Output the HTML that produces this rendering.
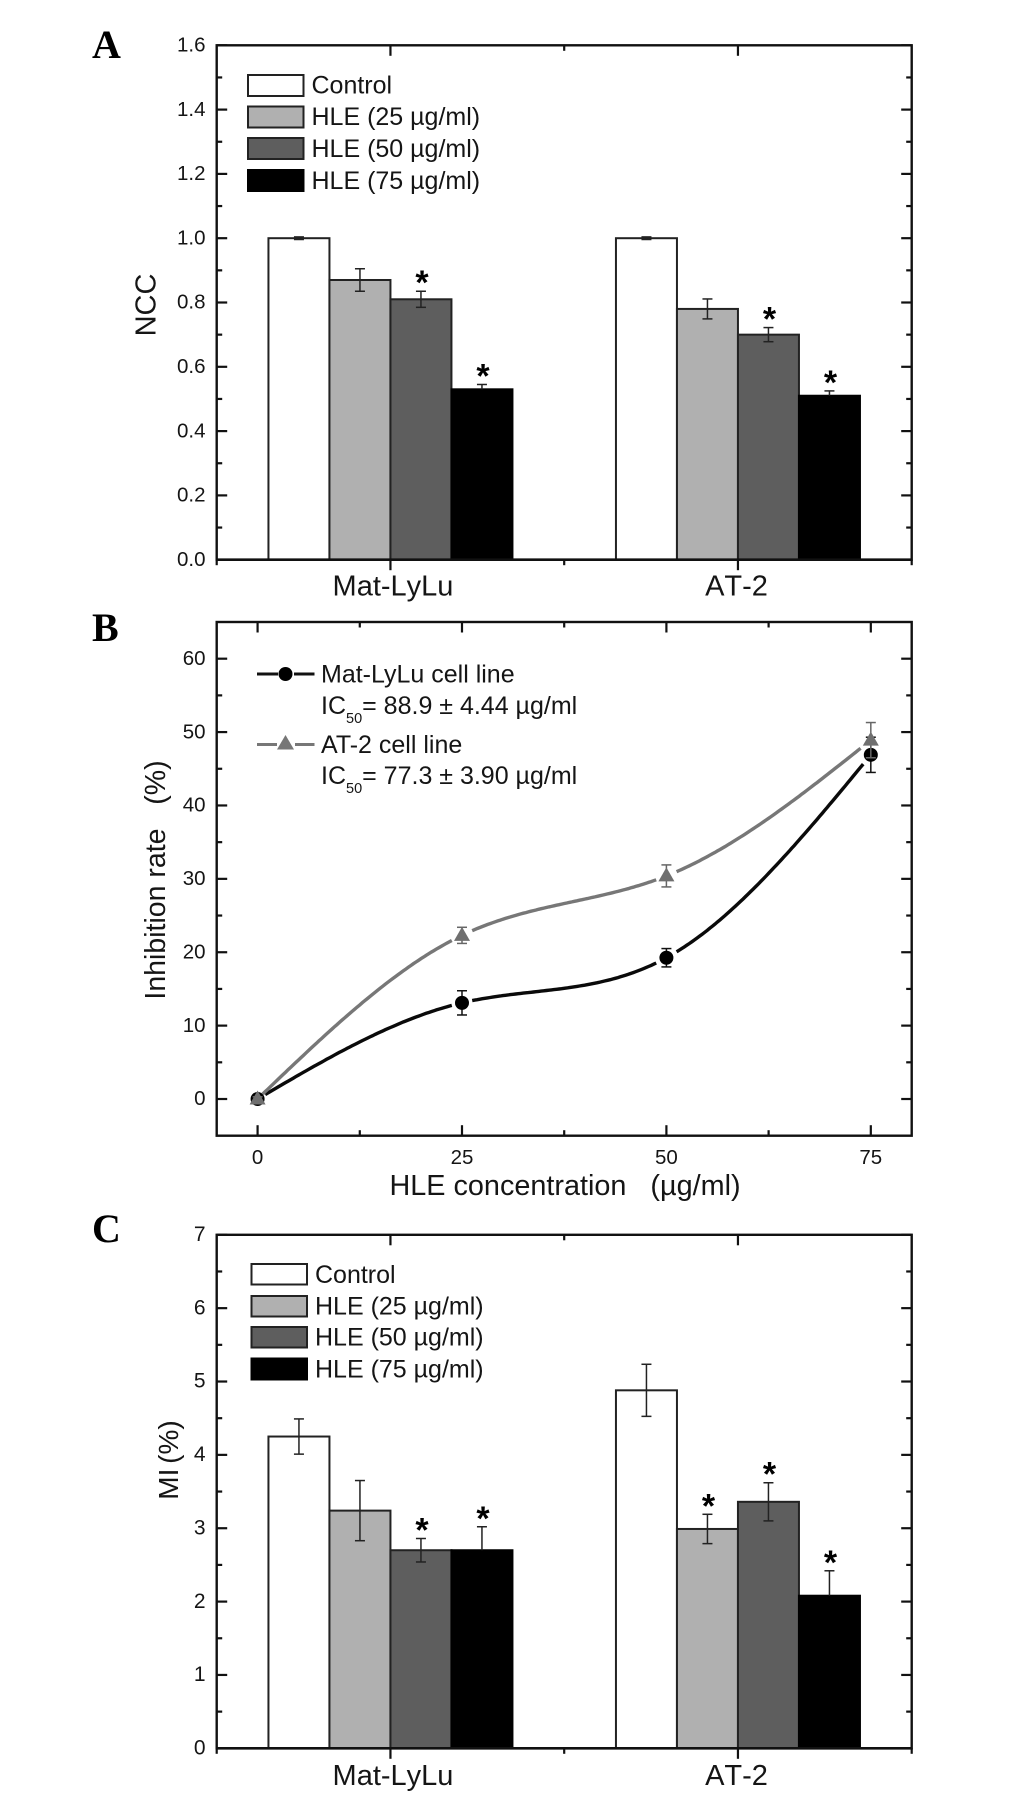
<!DOCTYPE html>
<html lang="en">
<head>
<meta charset="utf-8">
<title>HLE effects on NCC, inhibition rate and MI</title>
<style>
html,body{margin:0;padding:0;background:#fff;}
svg{display:block;}
text{font-family:"Liberation Sans",sans-serif;fill:#151515;white-space:pre;}
.letter{font-family:"Liberation Serif",serif;font-weight:bold;font-size:40px;fill:#000;}
.leg{font-size:25px;}
.title{font-size:29px;font-kerning:none;}
</style>
</head>
<body>
<svg id="figure" xmlns="http://www.w3.org/2000/svg" width="1033" height="1800" viewBox="0 0 1033 1800">
  <rect x="0" y="0" width="1033" height="1800" fill="#fff"/>

  <text class="letter" x="92" y="58">A</text>
  <text class="letter" x="92" y="641">B</text>
  <text class="letter" x="92" y="1242">C</text>

  <g id="panelA"></g>
  <g id="panelB"></g>
  <g id="panelC"></g>

  <text class="title" transform="translate(155.5 305) rotate(-90)" text-anchor="middle">NCC</text>
  <text class="title" x="393" y="595.5" text-anchor="middle">Mat-LyLu</text>
  <text class="title" x="736.5" y="595.5" text-anchor="middle">AT-2</text>

  <g>
    <rect x="248" y="75" width="55.5" height="21" fill="#fff" stroke="#222" stroke-width="2"/>
    <rect x="248" y="106.5" width="55.5" height="21" fill="#b0b0b0" stroke="#222" stroke-width="2"/>
    <rect x="248" y="138" width="55.5" height="21" fill="#5e5e5e" stroke="#222" stroke-width="2"/>
    <rect x="248" y="170" width="55.5" height="21" fill="#000" stroke="#000" stroke-width="2"/>
    <text class="leg" x="311.5" y="93.5">Control</text>
    <text class="leg" x="311.5" y="125">HLE (25 µg/ml)</text>
    <text class="leg" x="311.5" y="157">HLE (50 µg/ml)</text>
    <text class="leg" x="311.5" y="189">HLE (75 µg/ml)</text>
  </g>

  <text class="title" style="font-size:28.5px" transform="translate(165 880) rotate(-90)" text-anchor="middle">Inhibition rate   (%)</text>
  <text class="title" style="font-size:28.8px" x="389.5" y="1195">HLE concentration   (µg/ml)</text>

  <g>
    <line x1="257" y1="674" x2="278" y2="674" stroke="#111" stroke-width="3"/>
    <line x1="294" y1="674" x2="314.5" y2="674" stroke="#111" stroke-width="3"/>
    <circle cx="285.5" cy="674" r="7" fill="#000"/>
    <line x1="257" y1="744.5" x2="277" y2="744.5" stroke="#777" stroke-width="3"/>
    <line x1="295" y1="744.5" x2="314.5" y2="744.5" stroke="#777" stroke-width="3"/>
    <polygon points="285.5,735 277,749.5 294,749.5" fill="#777"/>
    <text class="leg" x="321" y="682.5">Mat-LyLu cell line</text>
    <text class="leg" x="321" y="714">IC<tspan font-size="14.5" dy="9">50</tspan><tspan dy="-9">= 88.9 ± 4.44 µg/ml</tspan></text>
    <text class="leg" x="321" y="753">AT-2 cell line</text>
    <text class="leg" x="321" y="784">IC<tspan font-size="14.5" dy="9">50</tspan><tspan dy="-9">= 77.3 ± 3.90 µg/ml</tspan></text>
  </g>

  <text class="title" style="font-size:28px;word-spacing:-3px" transform="translate(178 1460) rotate(-90)" text-anchor="middle">MI (%)</text>
  <text class="title" x="393" y="1785" text-anchor="middle">Mat-LyLu</text>
  <text class="title" x="736.5" y="1785" text-anchor="middle">AT-2</text>

  <g>
    <rect x="251.5" y="1264" width="55.5" height="20.5" fill="#fff" stroke="#222" stroke-width="2"/>
    <rect x="251.5" y="1296" width="55.5" height="20.5" fill="#b0b0b0" stroke="#222" stroke-width="2"/>
    <rect x="251.5" y="1327" width="55.5" height="20.5" fill="#5e5e5e" stroke="#222" stroke-width="2"/>
    <rect x="251.5" y="1358.5" width="55.5" height="21" fill="#000" stroke="#000" stroke-width="2"/>
    <text class="leg" x="315" y="1283">Control</text>
    <text class="leg" x="315" y="1314.5">HLE (25 µg/ml)</text>
    <text class="leg" x="315" y="1345.7">HLE (50 µg/ml)</text>
    <text class="leg" x="315" y="1377.3">HLE (75 µg/ml)</text>
  </g>
</svg>

<script>
// ---- Chart data ----
var barColors = ['#ffffff', '#b0b0b0', '#5e5e5e', '#000000'];
var seriesKeys = ['control', 'hle-25', 'hle-50', 'hle-75'];
var groupKeys = ['mat-lylu', 'at-2'];

// Panel A: NCC, rows are cell lines, columns are treatments
var nccMatLyLu = [1.00, 0.87, 0.81, 0.53];
var nccAT2 = [1.00, 0.78, 0.70, 0.51];
var nccErrMatLyLu = [0.004, 0.035, 0.025, 0.015];
var nccErrAT2 = [0.004, 0.031, 0.022, 0.015];
var nccStarsMatLyLu = [0, 0, 1, 1];
var nccStarsAT2 = [0, 0, 1, 1];
var nccTickLabels = ['0.0', '0.2', '0.4', '0.6', '0.8', '1.0', '1.2', '1.4', '1.6'];

// Panel B: inhibition rate
var doses = [0, 25, 50, 75];
var inhibitionMatLyLu = [0, 13.1, 19.25, 46.9];
var inhibitionAT2 = [0, 22.3, 30.4, 48.9];
var inhibitionErrMatLyLu = [0.3, 1.65, 1.25, 2.4];
var inhibitionErrAT2 = [0.3, 1.1, 1.5, 2.4];
var inhibitionYTickLabels = ['0', '10', '20', '30', '40', '50', '60'];
var inhibitionXTickLabels = ['0', '25', '50', '75'];

// Panel C: MI
var miMatLyLu = [4.25, 3.24, 2.70, 2.70];
var miAT2 = [4.88, 2.99, 3.36, 2.08];
var miErrMatLyLu = [0.24, 0.41, 0.16, 0.32];
var miErrAT2 = [0.355, 0.20, 0.26, 0.34];
var miStarsMatLyLu = [0, 0, 1, 1];
var miStarsAT2 = [0, 1, 1, 1];
var miTickLabels = ['0', '1', '2', '3', '4', '5', '6', '7'];

// ---- Helpers ----
var NS = 'http://www.w3.org/2000/svg';
var AXIS = '#111';

function make(parent, tag, name) {
  var el = document.createElementNS(NS, tag);
  
  
  parent.appendChild(el);
  return el;
}
function line(parent, name, x1, y1, x2, y2, width, color) {
  var el = make(parent, 'line', name);
  el.setAttribute('x1', x1);
  el.setAttribute('y1', y1);
  el.setAttribute('x2', x2);
  el.setAttribute('y2', y2);
  el.setAttribute('stroke', width ? color : 'none');
  el.setAttribute('stroke-width', width);
  return el;
}
function label(parent, name, x, y, str, size, anchor) {
  var el = make(parent, 'text', name);
  el.setAttribute('x', x);
  el.setAttribute('y', y);
  el.setAttribute('font-size', size);
  el.setAttribute('text-anchor', anchor);
  el.textContent = str;
  return el;
}
function linear(d0, d1, r0, r1) {
  return function (v) { return r0 + (v - d0) * (r1 - r0) / (d1 - d0); };
}
function frame(parent, box) {
  var el = make(parent, 'rect', 'plot-frame');
  el.setAttribute('x', box.l);
  el.setAttribute('y', box.t);
  el.setAttribute('width', box.r - box.l);
  el.setAttribute('height', box.b - box.t);
  el.setAttribute('fill', 'none');
  el.setAttribute('stroke', AXIS);
  el.setAttribute('stroke-width', 2.4);
}
function yTicks(parent, box, y, labels, step, labelSize, labelX) {
  labels.forEach(function (txt, i) {
    var v = Number(txt);
    var py = y(v);
    line(parent, 'y-tick-major', box.l, py, box.l + 10.5, py, 2.2, AXIS);
    line(parent, 'y-tick-major-right', box.r, py, box.r - 10.5, py, 2.2, AXIS);
    label(parent, 'y-tick-label', labelX, py + 6.2, txt, labelSize, 'end');
    if (i < labels.length - 1) {
      var m = y(v + step / 2);
      line(parent, 'y-tick-minor', box.l, m, box.l + 5.5, m, 2.2, AXIS);
      line(parent, 'y-tick-minor-right', box.r, m, box.r - 5.5, m, 2.2, AXIS);
    }
  });
}
function barPanel(parent, box, y, tickLabels, tickStep, labelSize, values, errs, stars) {
  var groupPos = [1, 2];
  var x = linear(0.5, 2.5, box.l, box.r);
  var barW = 61;
  [0.5, 1.5, 2.5].forEach(function (v) {
    line(parent, 'x-tick-minor', x(v), box.b, x(v), box.b + 5.5, 2.2, AXIS);
    if (v === 1.5) line(parent, 'x-tick-minor-top', x(v), box.t, x(v), box.t + 5.5, 2.2, AXIS);
  });
  groupPos.forEach(function (g) {
    line(parent, 'x-tick-major', x(g), box.b, x(g), box.b + 10.5, 2.2, AXIS);
    line(parent, 'x-tick-major-top', x(g), box.t, x(g), box.t + 10.5, 2.2, AXIS);
  });
  yTicks(parent, box, y, tickLabels, tickStep, labelSize, 205.5);
  values.forEach(function (row, gi) {
    row.forEach(function (v, si) {
      var left = x(groupPos[gi]) + (si - 2) * barW;
      var bar = make(parent, 'rect', 'bar-' + groupKeys[gi] + '-' + seriesKeys[si]);
      bar.setAttribute('x', left);
      bar.setAttribute('y', y(v));
      bar.setAttribute('width', barW);
      bar.setAttribute('height', y(0) - y(v));
      bar.setAttribute('fill', barColors[si]);
      bar.setAttribute('stroke', si === 3 ? '#000' : '#222');
      bar.setAttribute('stroke-width', 2);
    });
  });
  values.forEach(function (row, gi) {
    row.forEach(function (v, si) {
      var cx = x(groupPos[gi]) + (si - 1.5) * barW;
      var e = errs[gi][si];
      var top = y(v + e), bot = y(v - e);
      // the lower half of an error bar disappears inside the black bars
      var isBlack = si === 3;
      line(parent, 'error-bar', cx, top, cx, isBlack ? y(v) : bot, 1.5, '#222');
      line(parent, 'error-cap-top', cx - 5, top, cx + 5, top, 1.5, '#222');
      if (!isBlack) line(parent, 'error-cap-bottom', cx - 5, bot, cx + 5, bot, 1.5, '#222');
      if (stars[gi][si]) {
        var s = label(parent, 'significance-star', cx + 1, top - 15.5 + 18.5, '*', 34, 'middle');
        s.setAttribute('font-weight', 'bold');
        s.style.fill = '#000';
      }
    });
  });
  frame(parent, box);
  line(parent, 'x-axis-line', box.l, box.b, box.r, box.b, 2.6, AXIS);
}
// natural cubic spline through the data points
function spline(xs, ys) {
  var n = xs.length, h = [], a = [], b = [], c = [], d = [], M = [], i;
  for (i = 0; i < n - 1; i++) h.push(xs[i + 1] - xs[i]);
  for (i = 0; i < n; i++) { M.push(0); a.push(0); b.push(1); c.push(0); d.push(0); }
  for (i = 1; i < n - 1; i++) {
    a[i] = h[i - 1];
    b[i] = 2 * (h[i - 1] + h[i]);
    c[i] = h[i];
    d[i] = 6 * ((ys[i + 1] - ys[i]) / h[i] - (ys[i] - ys[i - 1]) / h[i - 1]);
  }
  for (i = 1; i < n; i++) {
    var f = a[i] / b[i - 1];
    b[i] -= f * c[i - 1];
    d[i] -= f * d[i - 1];
  }
  M[n - 1] = d[n - 1] / b[n - 1];
  for (i = n - 2; i >= 0; i--) M[i] = (d[i] - c[i] * M[i + 1]) / b[i];
  return function (seg, t) {
    var A = 1 - t, B = t, H = h[seg];
    return A * ys[seg] + B * ys[seg + 1] +
      ((A * A * A - A) * M[seg] + (B * B * B - B) * M[seg + 1]) * H * H / 6;
  };
}
function curveSeries(parent, key, xs, ys, x, y, color) {
  var S = spline(xs, ys), gap = 10, seg, k;
  for (seg = 0; seg < xs.length - 1; seg++) {
    var pts = [];
    for (k = 0; k <= 80; k++) {
      var t = k / 80;
      var vx = xs[seg] + t * (xs[seg + 1] - xs[seg]);
      var px = x(vx), py = y(S(seg, t));
      var d0 = Math.hypot(px - x(xs[seg]), py - y(ys[seg]));
      var d1 = Math.hypot(px - x(xs[seg + 1]), py - y(ys[seg + 1]));
      if (d0 > (seg === 0 ? 6 : gap) && d1 > gap) pts.push(px.toFixed(1) + ',' + py.toFixed(1));
    }
    var pl = make(parent, 'polyline', 'line-' + key);
    pl.setAttribute('points', pts.join(' '));
    pl.setAttribute('fill', 'none');
    pl.setAttribute('stroke', color);
    pl.setAttribute('stroke-width', 3.4);
  }
}
function errorsSeries(parent, xs, ys, errs, x, y, color) {
  ys.forEach(function (v, i) {
    var px = x(xs[i]), top = y(v + errs[i]), bot = y(v - errs[i]);
    line(parent, 'error-bar', px, top, px, bot, 1.5, color);
    line(parent, 'error-cap-top', px - 5, top, px + 5, top, 1.5, color);
    line(parent, 'error-cap-bottom', px - 5, bot, px + 5, bot, 1.5, color);
  });
}

// ---- Panel A ----
var boxA = { l: 216.7, r: 911.7, t: 45.3, b: 559.7 };
var yA = linear(0, 1.6, boxA.b, boxA.t);
barPanel(document.getElementById('panelA'), boxA, yA, nccTickLabels, 0.2, 20.5,
  [nccMatLyLu, nccAT2], [nccErrMatLyLu, nccErrAT2], [nccStarsMatLyLu, nccStarsAT2]);

// ---- Panel B ----
var gB = document.getElementById('panelB');
var boxB = { l: 216.7, r: 911.7, t: 622, b: 1135.7 };
var xB = linear(-5, 80, boxB.l, boxB.r);
var yB = linear(-5, 65, boxB.b, boxB.t);
yTicks(gB, boxB, yB, inhibitionYTickLabels, 10, 20.5, 205.5);
inhibitionXTickLabels.forEach(function (txt, i) {
  var v = Number(txt), px = xB(v);
  line(gB, 'x-tick-major', px, boxB.b, px, boxB.b - 10.5, 2.2, AXIS);
  line(gB, 'x-tick-major-top', px, boxB.t, px, boxB.t + 10.5, 2.2, AXIS);
  label(gB, 'x-tick-label', px, 1164, txt, 20.5, 'middle');
  if (i < inhibitionXTickLabels.length - 1) {
    var m = xB(v + 12.5);
    line(gB, 'x-tick-minor', m, boxB.b, m, boxB.b - 5.5, 2.2, AXIS);
    line(gB, 'x-tick-minor-top', m, boxB.t, m, boxB.t + 5.5, 2.2, AXIS);
  }
});
frame(gB, boxB);
curveSeries(gB, 'mat-lylu', doses, inhibitionMatLyLu, xB, yB, '#0a0a0a');
curveSeries(gB, 'at-2', doses, inhibitionAT2, xB, yB, '#777777');
errorsSeries(gB, doses, inhibitionMatLyLu, inhibitionErrMatLyLu, xB, yB, '#111');
inhibitionMatLyLu.forEach(function (v, i) {
  var c = make(gB, 'circle', 'point-mat-lylu');
  c.setAttribute('cx', xB(doses[i]));
  c.setAttribute('cy', yB(v));
  c.setAttribute('r', 7);
  c.setAttribute('fill', '#000');
});
errorsSeries(gB, doses, inhibitionAT2, inhibitionErrAT2, xB, yB, '#666');
inhibitionAT2.forEach(function (v, i) {
  var px = xB(doses[i]), py = yB(v);
  var p = make(gB, 'polygon', 'point-at-2');
  p.setAttribute('points', px + ',' + (py - 8.5) + ' ' + (px - 8) + ',' + (py + 5.5) + ' ' + (px + 8) + ',' + (py + 5.5));
  p.setAttribute('fill', '#6f6f6f');
});

// ---- Panel C ----
var boxC = { l: 216.7, r: 911.7, t: 1234.8, b: 1748.3 };
var yC = linear(0, 7, boxC.b, boxC.t);
barPanel(document.getElementById('panelC'), boxC, yC, miTickLabels, 1, 21,
  [miMatLyLu, miAT2], [miErrMatLyLu, miErrAT2], [miStarsMatLyLu, miStarsAT2]);
</script>
</body>
</html>
